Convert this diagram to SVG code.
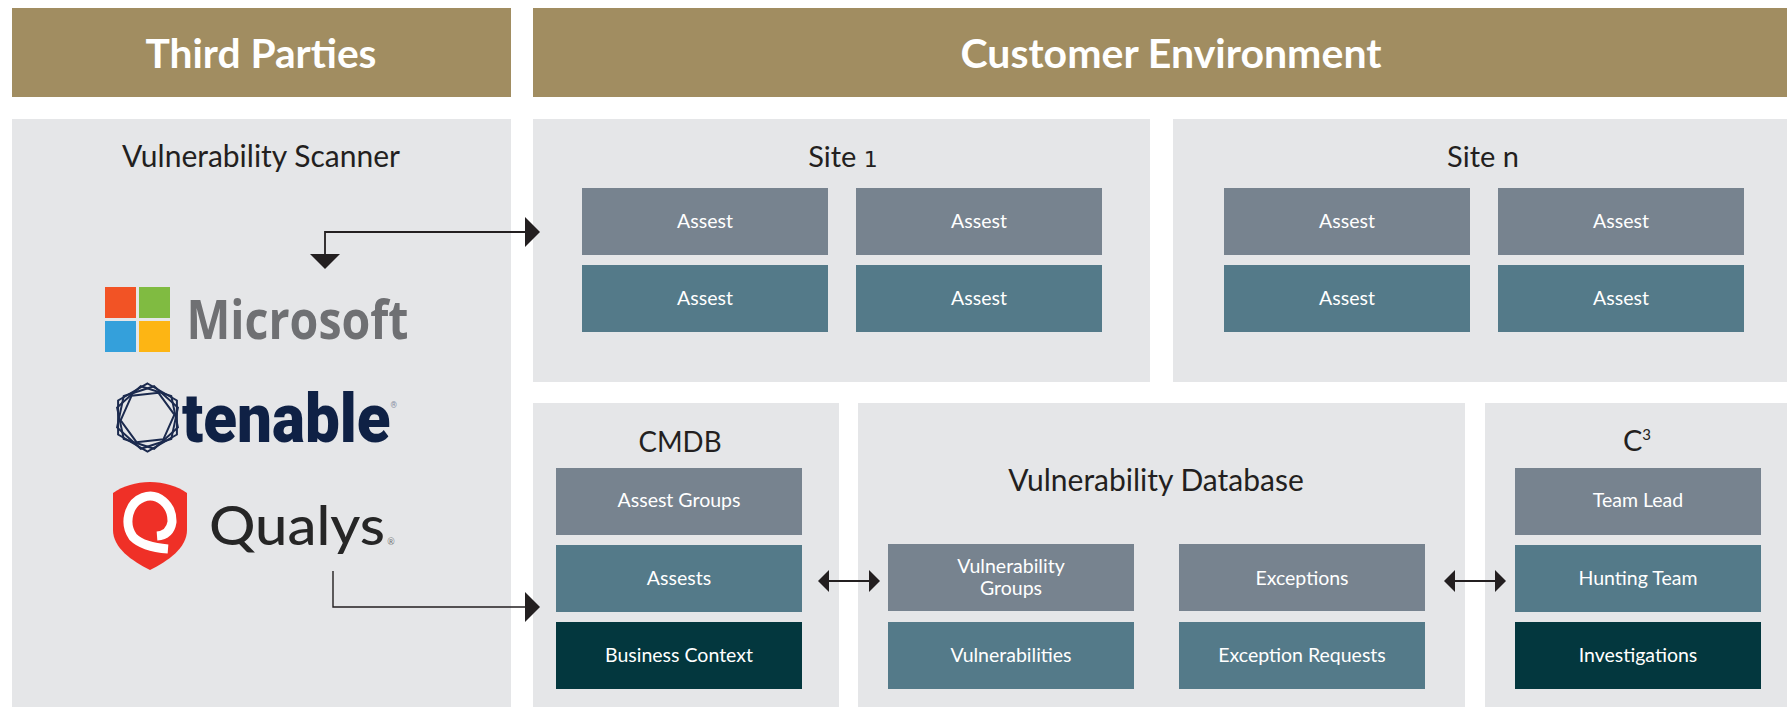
<svg xmlns="http://www.w3.org/2000/svg" width="1787" height="707" viewBox="0 0 1787 707">
<style>
text{font-family:"Lato","Open Sans","Liberation Sans",sans-serif;text-anchor:middle}
.hdr{fill:#A18D61}.pnl{fill:#E5E6E8}.s{fill:#77838F}.t{fill:#547A89}.d{fill:#03373E}
.h{font-size:41px;font-weight:700;fill:#fff}
.p{font-size:29px;fill:#231F20}
.w{font-size:30px}
.b{font-size:19.5px;fill:#fff}
.ln{fill:none;stroke:#231F20;stroke-width:1.8}
.thin{stroke-width:1.4}
.hx{fill:none;stroke:#1B2A4E;stroke-width:2}
</style>
<defs>
<marker id="big" markerUnits="userSpaceOnUse" markerWidth="16" markerHeight="30" refX="0" refY="15" orient="auto-start-reverse"><path d="M0 0L15 15L0 30Z" fill="#231F20"/></marker>
<marker id="sm" markerUnits="userSpaceOnUse" markerWidth="12" markerHeight="22" refX="0" refY="11" orient="auto-start-reverse"><path d="M0 0L11 11L0 22Z" fill="#231F20"/></marker>
</defs>
<rect width="1787" height="707" fill="#fff"/>
<g id="hdr-third"><rect class="hdr" x="12" y="8" width="499" height="89"/><text class="h" x="261" y="68" textLength="231" lengthAdjust="spacingAndGlyphs">Third Parties</text></g>
<g id="hdr-customer"><rect class="hdr" x="533" y="8" width="1254" height="89"/><text class="h" x="1171" y="68" textLength="421" lengthAdjust="spacingAndGlyphs">Customer Environment</text></g>
<g id="scanner"><rect class="pnl" x="12" y="119" width="499" height="588"/><text class="p w" x="261" y="167">Vulnerability Scanner</text></g>
<g id="logo-microsoft">
<rect x="105" y="287" width="31" height="31" fill="#F25325"/><rect x="139" y="287" width="31" height="31" fill="#80BB41"/><rect x="105" y="321" width="31" height="31" fill="#34A0DB"/><rect x="139" y="321" width="31" height="31" fill="#FDB514"/>
<text x="297.5" y="339" font-size="54" font-weight="700" fill="#6F7073" textLength="222" lengthAdjust="spacingAndGlyphs" style="font-family:'Open Sans',sans-serif">Microsoft</text>
</g>
<g id="logo-tenable">
<g class="hx" transform="translate(147.5 417.5)"><polygon points="0,-34 29.4,-17 29.4,17 0,34 -29.4,17 -29.4,-17"/><polygon transform="rotate(12)" points="0,-32 27.7,-16 27.7,16 0,32 -27.7,16 -27.7,-16"/><polygon transform="rotate(-12)" points="0,-32 27.7,-16 27.7,16 0,32 -27.7,16 -27.7,-16"/><polygon transform="rotate(24)" points="0,-27 23.4,-13.5 23.4,13.5 0,27 -23.4,13.5 -23.4,-13.5"/></g>
<text x="289.5" y="442" font-size="68" font-weight="900" fill="#0F2145" textLength="215" lengthAdjust="spacingAndGlyphs" style="font-family:Roboto,sans-serif">tenable<tspan font-size="9" dy="-34" fill="#8A93A5">®</tspan></text>
</g>
<g id="logo-qualys">
<path d="M150 482C164 482 177 486 187 493V530C187 548 168 561 150 570C132 561 113 548 113 530V493C123 486 136 482 150 482Z" fill="#EF3027"/>
<path d="M157 536Q170 535 172 522A22 25 0 1 0 133 537Q143 547 168 549" fill="none" stroke="#fff" stroke-width="9"/>
<text x="297" y="545" font-size="54" font-weight="500" fill="#262626" textLength="176" lengthAdjust="spacingAndGlyphs">Qualys</text>
<text x="391" y="545" font-size="9" fill="#777">®</text>
</g>
<g id="site1"><rect class="pnl" x="533" y="119" width="617" height="263"/><text class="p" x="843" y="167">Site <tspan font-size="22" style="font-family:'DejaVu Sans',sans-serif">1</tspan></text>
<g id="s1a"><rect class="s" x="582" y="188" width="246" height="67"/><text class="b" x="705" y="228">Assest</text></g>
<g id="s1b"><rect class="s" x="856" y="188" width="246" height="67"/><text class="b" x="979" y="228">Assest</text></g>
<g id="s1c"><rect class="t" x="582" y="265" width="246" height="67"/><text class="b" x="705" y="305">Assest</text></g>
<g id="s1d"><rect class="t" x="856" y="265" width="246" height="67"/><text class="b" x="979" y="305">Assest</text></g>
</g>
<g id="siten"><rect class="pnl" x="1173" y="119" width="614" height="263"/><text class="p" x="1483" y="167">Site n</text>
<g id="sna"><rect class="s" x="1224" y="188" width="246" height="67"/><text class="b" x="1347" y="228">Assest</text></g>
<g id="snb"><rect class="s" x="1498" y="188" width="246" height="67"/><text class="b" x="1621" y="228">Assest</text></g>
<g id="snc"><rect class="t" x="1224" y="265" width="246" height="67"/><text class="b" x="1347" y="305">Assest</text></g>
<g id="snd"><rect class="t" x="1498" y="265" width="246" height="67"/><text class="b" x="1621" y="305">Assest</text></g>
</g>
<g id="cmdb"><rect class="pnl" x="533" y="403" width="306" height="304"/><text class="p" x="680" y="452" textLength="83" lengthAdjust="spacingAndGlyphs">CMDB</text>
<g id="c1"><rect class="s" x="556" y="468" width="246" height="67"/><text class="b" x="679" y="507">Assest Groups</text></g>
<g id="c2"><rect class="t" x="556" y="545" width="246" height="67"/><text class="b" x="679" y="585">Assests</text></g>
<g id="c3"><rect class="d" x="556" y="622" width="246" height="67"/><text class="b" x="679" y="662">Business Context</text></g>
</g>
<g id="vdb"><rect class="pnl" x="858" y="403" width="607" height="304"/><text class="p w" x="1156" y="491">Vulnerability Database</text>
<g id="v1"><rect class="s" x="888" y="544" width="246" height="67"/><text class="b" x="1011" y="573">Vulnerability</text><text class="b" x="1011" y="595">Groups</text></g>
<g id="v2"><rect class="t" x="888" y="622" width="246" height="67"/><text class="b" x="1011" y="662">Vulnerabilities</text></g>
<g id="v3"><rect class="s" x="1179" y="544" width="246" height="67"/><text class="b" x="1302" y="585">Exceptions</text></g>
<g id="v4"><rect class="t" x="1179" y="622" width="246" height="67"/><text class="b" x="1302" y="662">Exception Requests</text></g>
</g>
<g id="c3-panel"><rect class="pnl" x="1485" y="403" width="302" height="304"/><text class="p" x="1637" y="451">C<tspan font-size="15" dy="-11">3</tspan></text>
<g id="t1"><rect class="s" x="1515" y="468" width="246" height="67"/><text class="b" x="1638" y="507">Team Lead</text></g>
<g id="t2"><rect class="t" x="1515" y="545" width="246" height="67"/><text class="b" x="1638" y="585">Hunting Team</text></g>
<g id="t3"><rect class="d" x="1515" y="622" width="246" height="67"/><text class="b" x="1638" y="662">Investigations</text></g>
</g>
<g id="connectors">
<path class="ln" d="M325 254V232H525" marker-start="url(#big)" marker-end="url(#big)"/>
<path class="ln thin" d="M333 571V607H525" marker-end="url(#big)"/>
<path class="ln" d="M829 581H869" marker-start="url(#sm)" marker-end="url(#sm)"/>
<path class="ln" d="M1455 581H1495" marker-start="url(#sm)" marker-end="url(#sm)"/>
</g>
</svg>
